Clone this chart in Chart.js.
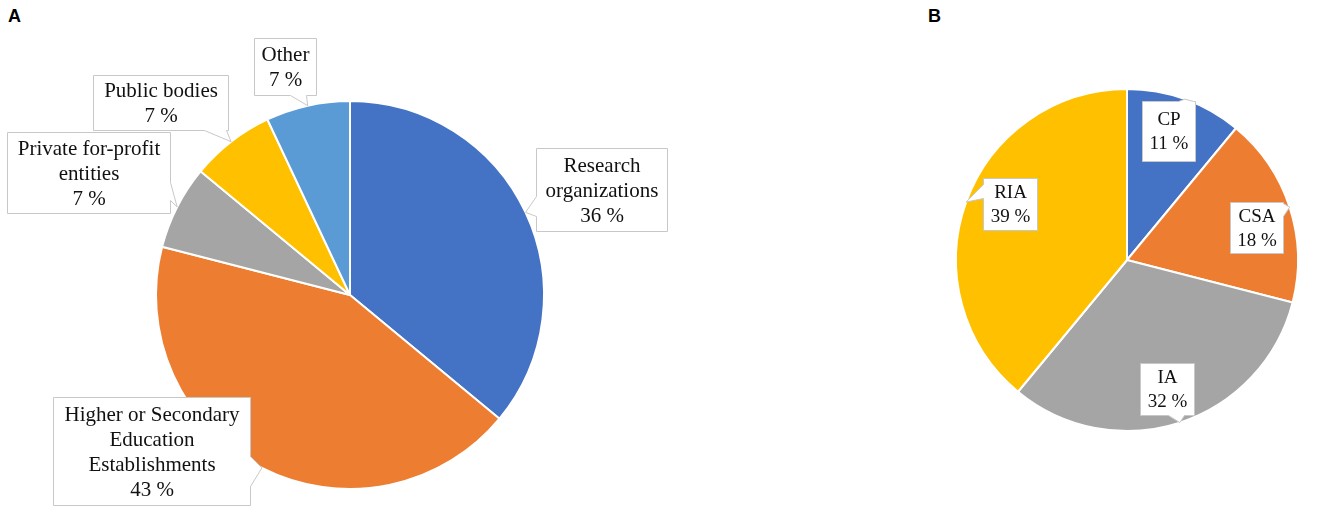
<!DOCTYPE html>
<html>
<head>
<meta charset="utf-8">
<script src="https://cdn.jsdelivr.net/npm/chart.js@4.4.1/dist/chart.umd.min.js"></script>
<style>
  html, body { margin:0; padding:0; background:#fff; }
  body { width:1325px; height:517px; position:relative; overflow:hidden; }
  .panel { position:absolute; }
  .tag { position:absolute; font-family:'Liberation Sans', Arial, sans-serif; font-weight:bold; font-size:18px; line-height:21px; color:#000; }
</style>
</head>
<body>
<div class="tag" style="left:8px; top:6px;">A</div>
<div class="tag" style="left:928px; top:6px;">B</div>
<div class="panel" style="left:0px; top:0px; width:700px; height:517px;"><canvas id="cA"></canvas></div>
<div class="panel" style="left:700px; top:0px; width:625px; height:517px;"><canvas id="cB"></canvas></div>
<script>
// ---- Data: panel A ----
const categoriesA = ['Research organizations', 'Higher or Secondary Education Establishments', 'Private for-profit entities', 'Public bodies', 'Other'];
const labelLinesA = [['Research', 'organizations'], ['Higher or Secondary', 'Education', 'Establishments'], ['Private for-profit', 'entities'], ['Public bodies'], ['Other']];
const valuesA = [36, 43, 7, 7, 7];
const colorsA = ['#4472C4', '#ED7D31', '#A5A5A5', '#FFC000', '#5B9BD5'];

// ---- Data: panel B ----
const categoriesB = ['CP', 'CSA', 'IA', 'RIA'];
const labelLinesB = [['CP'], ['CSA'], ['IA'], ['RIA']];
const valuesB = [11, 18, 32, 39];
const colorsB = ['#4472C4', '#ED7D31', '#A5A5A5', '#FFC000'];

// ---- Callout layout (page pixel coordinates) ----
const layoutA = [
  { box: [536, 148, 667, 231], side: 'left',   base: [196, 216], r: 1.0 },
  { box: [53, 397, 250, 505],  side: 'right',  base: [456, 486], r: 1.0 },
  { box: [7, 132, 170, 213],   side: 'right',  base: [182, 200], r: 1.0 },
  { box: [93, 75, 228, 130],   side: 'bottom', base: [204, 226], r: 1.0 },
  { box: [254, 38, 316, 95],   side: 'bottom', base: [290, 306], r: 1.0 }
];
const layoutB = [
  { box: [1142, 101, 1195, 161], side: 'top',   base: [1178, 1193], r: 1.0 },
  { box: [1230, 202, 1283, 253], side: 'right', base: [203, 216],   r: 1.0 },
  { box: [1140, 363, 1194, 415], side: 'bottom', base: [1168, 1184], r: 1.0 },
  { box: [983, 178, 1037, 230],  side: 'left',  base: [184, 198],   r: 1.0 }
];

const calloutPlugin = {
  id: 'callouts',
  afterDatasetsDraw(chart, args, opts) {
    const ctx = chart.ctx;
    const meta = chart.getDatasetMeta(0);
    const vals = chart.data.datasets[0].data;
    meta.data.forEach((arc, i) => {
      const L = opts.layout[i];
      const p = arc.getProps(['x', 'y', 'startAngle', 'endAngle', 'outerRadius'], true);
      const mid = (p.startAngle + p.endAngle) / 2;
      const tx = p.x + Math.cos(mid) * p.outerRadius * L.r;
      const ty = p.y + Math.sin(mid) * p.outerRadius * L.r;
      const x0 = L.box[0] - opts.ox + 0.5, y0 = L.box[1] - opts.oy + 0.5;
      const x1 = L.box[2] - opts.ox + 0.5, y1 = L.box[3] - opts.oy + 0.5;
      const off = (L.side === 'top' || L.side === 'bottom') ? opts.ox : opts.oy;
      const a = L.base[0] - off + 0.5, b = L.base[1] - off + 0.5;
      ctx.save();
      ctx.beginPath();
      ctx.moveTo(x0, y0);
      if (L.side === 'top') { ctx.lineTo(a, y0); ctx.lineTo(tx, ty); ctx.lineTo(b, y0); }
      ctx.lineTo(x1, y0);
      if (L.side === 'right') { ctx.lineTo(x1, a); ctx.lineTo(tx, ty); ctx.lineTo(x1, b); }
      ctx.lineTo(x1, y1);
      if (L.side === 'bottom') { ctx.lineTo(b, y1); ctx.lineTo(tx, ty); ctx.lineTo(a, y1); }
      ctx.lineTo(x0, y1);
      if (L.side === 'left') { ctx.lineTo(x0, b); ctx.lineTo(tx, ty); ctx.lineTo(x0, a); }
      ctx.closePath();
      ctx.fillStyle = '#FFFFFF';
      ctx.fill();
      ctx.strokeStyle = '#C8C8C8';
      ctx.lineWidth = 1;
      ctx.stroke();
      const lines = opts.lines[i].concat([vals[i] + ' %']);
      ctx.fillStyle = '#111111';
      ctx.font = opts.fontSize + "px 'Liberation Serif', 'Times New Roman', serif";
      ctx.textAlign = 'center';
      ctx.textBaseline = 'middle';
      const cx = (x0 + x1) / 2, cy = (y0 + y1) / 2;
      const lh = opts.lineHeight;
      lines.forEach((t, k) => {
        ctx.fillText(t, cx, cy + (k - (lines.length - 1) / 2) * lh + 1);
      });
      ctx.restore();
    });
  }
};

function makePie(id, cats, vals, cols, padding, layout, lines, ox, oy, fontSize, lineHeight) {
  return new Chart(document.getElementById(id), {
    type: 'pie',
    data: {
      labels: cats,
      datasets: [{ data: vals, backgroundColor: cols, borderColor: '#FFFFFF', borderWidth: 2 }]
    },
    options: {
      responsive: true,
      maintainAspectRatio: false,
      animation: false,
      layout: { padding: padding },
      plugins: {
        legend: { display: false },
        tooltip: { enabled: false },
        callouts: { layout: layout, lines: lines, ox: ox, oy: oy, fontSize: fontSize, lineHeight: lineHeight }
      }
    },
    plugins: [calloutPlugin]
  });
}

makePie('cA', categoriesA, valuesA, colorsA, { left: 155, right: 155, top: 100, bottom: 27 }, layoutA, labelLinesA, 0, 0, 21, 25);
makePie('cB', categoriesB, valuesB, colorsB, { left: 255, right: 26, top: 88, bottom: 85 }, layoutB, labelLinesB, 700, 0, 19, 24);
</script>
</body>
</html>
